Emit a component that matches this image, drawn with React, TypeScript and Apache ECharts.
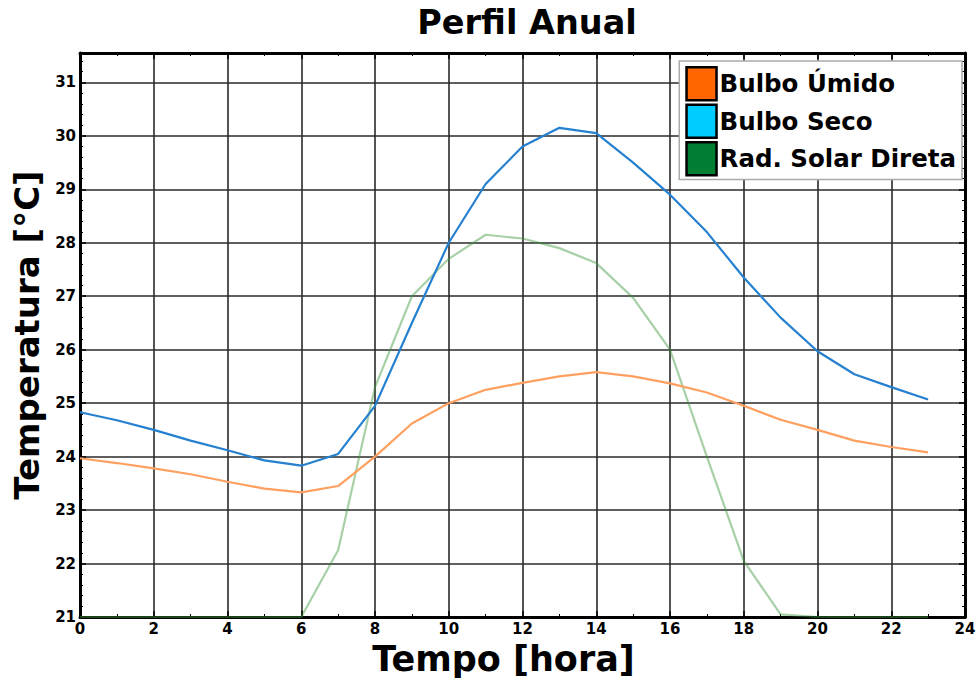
import React, { useEffect, useRef } from "react";
import * as echarts from "echarts";

const hours = Array.from({ length: 24 }, (_, i) => i);
const bulboUmido = [23.97, 23.88, 23.78, 23.67, 23.53, 23.4, 23.33, 23.45, 24.0, 24.62, 25.0, 25.25, 25.38, 25.5, 25.58, 25.5, 25.37, 25.2, 24.95, 24.69, 24.5, 24.3, 24.18, 24.08];
const bulboSeco = [24.83, 24.68, 24.5, 24.3, 24.12, 23.93, 23.83, 24.05, 24.95, 26.5, 28.0, 29.1, 29.8, 30.15, 30.05, 29.5, 28.9, 28.2, 27.35, 26.6, 25.97, 25.54, 25.3, 25.07];
const radSolar = [21.0, 21.0, 21.0, 21.0, 21.0, 21.0, 21.0, 22.25, 25.3, 27.0, 27.7, 28.15, 28.08, 27.9, 27.62, 26.97, 26.0, 24.0, 22.05, 21.05, 21.0, 21.0, 21.0, 21.0];
const seriesNames = ["Bulbo Úmido", "Bulbo Seco", "Rad. Solar Direta"];
const legendColors = ["#ff6600", "#00ccff", "#007f33"];
const lineColors = ["#ffa060", "#2580d0", "rgba(60,150,60,0.45)"];

const FONT = "DejaVu Sans";

export default function App() {
  const ref = useRef<HTMLDivElement>(null);
  useEffect(() => {
    if (!ref.current) return;
    const chart = echarts.init(ref.current, null, { renderer: "svg" });
    const pair = (arr: number[]) => hours.map((h, i) => [h, arr[i]]);
    const axisBase = {
      axisLine: { show: true, onZero: false, lineStyle: { color: "#000", width: 3 } },
      axisTick: { show: true, inside: true, length: 6, lineStyle: { color: "#000", width: 1.5 } },
      minorTick: { show: true, length: 3, lineStyle: { color: "#000", width: 1 } },
    };
    chart.setOption({
      animation: false,
      backgroundColor: "#fff",
      title: {
        text: "Perfil Anual",
        left: 522,
        textAlign: "center",
        top: 0,
        textStyle: { fontFamily: FONT, fontWeight: "bold", fontSize: 33.5, color: "#000" },
      },
      legend: {
        orient: "vertical",
        right: 18,
        top: 61,
        icon: "rect",
        itemWidth: 30,
        itemHeight: 33,
        itemGap: 2,
        padding: [5, 6, 3, 6],
        backgroundColor: "#fff",
        borderColor: "#aaa",
        borderWidth: 1.5,
        borderRadius: 0,
        textStyle: { fontFamily: FONT, fontWeight: "bold", fontSize: 24.5, color: "#000", padding: [0, 0, 0, -2] },
        data: seriesNames.map((n, i) => ({
          name: n,
          itemStyle: { color: legendColors[i], borderColor: "#000", borderWidth: 2.5 },
        })),
      },
      grid: { left: 80, right: 15, top: 53, bottom: 63, containLabel: false, outerBoundsMode: "none" },
      xAxis: [
        {
          ...axisBase,
          type: "value",
          min: 0,
          max: 24,
          interval: 2,
          minorTick: { ...axisBase.minorTick, splitNumber: 2 },
          axisLabel: { fontFamily: FONT, fontWeight: "bold", fontSize: 15, color: "#000", margin: 4 },
          splitLine: { show: true, lineStyle: { color: "#2a2a2a", width: 1.6 } },
          name: "Tempo [hora]",
          nameLocation: "middle",
          nameGap: 24,
          nameTextStyle: { fontFamily: FONT, fontWeight: "bold", fontSize: 35, color: "#000", padding: [0, 38, 0, 0] },
        },
        {
          ...axisBase,
          type: "value",
          position: "top",
          min: 0,
          max: 24,
          interval: 2,
          minorTick: { ...axisBase.minorTick, splitNumber: 2 },
          axisLabel: { show: false },
          splitLine: { show: false },
        },
      ],
      yAxis: [
        {
          ...axisBase,
          type: "value",
          min: 21,
          max: 31.55,
          interval: 1,
          minorTick: { ...axisBase.minorTick, splitNumber: 5 },
          axisLabel: { fontFamily: FONT, fontWeight: "bold", fontSize: 15, color: "#000", margin: 4, showMaxLabel: false },
          splitLine: { show: true, lineStyle: { color: "#2a2a2a", width: 1.6 } },
          name: "Temperatura [°C]",
          nameLocation: "middle",
          nameGap: 30,
          nameTextStyle: { fontFamily: FONT, fontWeight: "bold", fontSize: 34, color: "#000" },
        },
        {
          ...axisBase,
          type: "value",
          position: "right",
          min: 21,
          max: 31.55,
          interval: 1,
          minorTick: { ...axisBase.minorTick, splitNumber: 5 },
          axisLabel: { show: false },
          splitLine: { show: false },
        },
      ],
      series: [
        { name: seriesNames[0], type: "line", data: pair(bulboUmido), showSymbol: false, symbol: "none", lineStyle: { color: lineColors[0], width: 2.2 }, itemStyle: { color: lineColors[0] }, z: 3 },
        { name: seriesNames[1], type: "line", data: pair(bulboSeco), showSymbol: false, symbol: "none", lineStyle: { color: lineColors[1], width: 2.2 }, itemStyle: { color: lineColors[1] }, z: 3 },
        { name: seriesNames[2], type: "line", data: pair(radSolar), showSymbol: false, symbol: "none", lineStyle: { color: lineColors[2], width: 2.2 }, itemStyle: { color: lineColors[2] }, z: 2 },
      ],
    });
    return () => chart.dispose();
  }, []);
  return <div ref={ref} style={{ width: 980, height: 680, position: "fixed", left: 0, top: 0 }} />;
}
